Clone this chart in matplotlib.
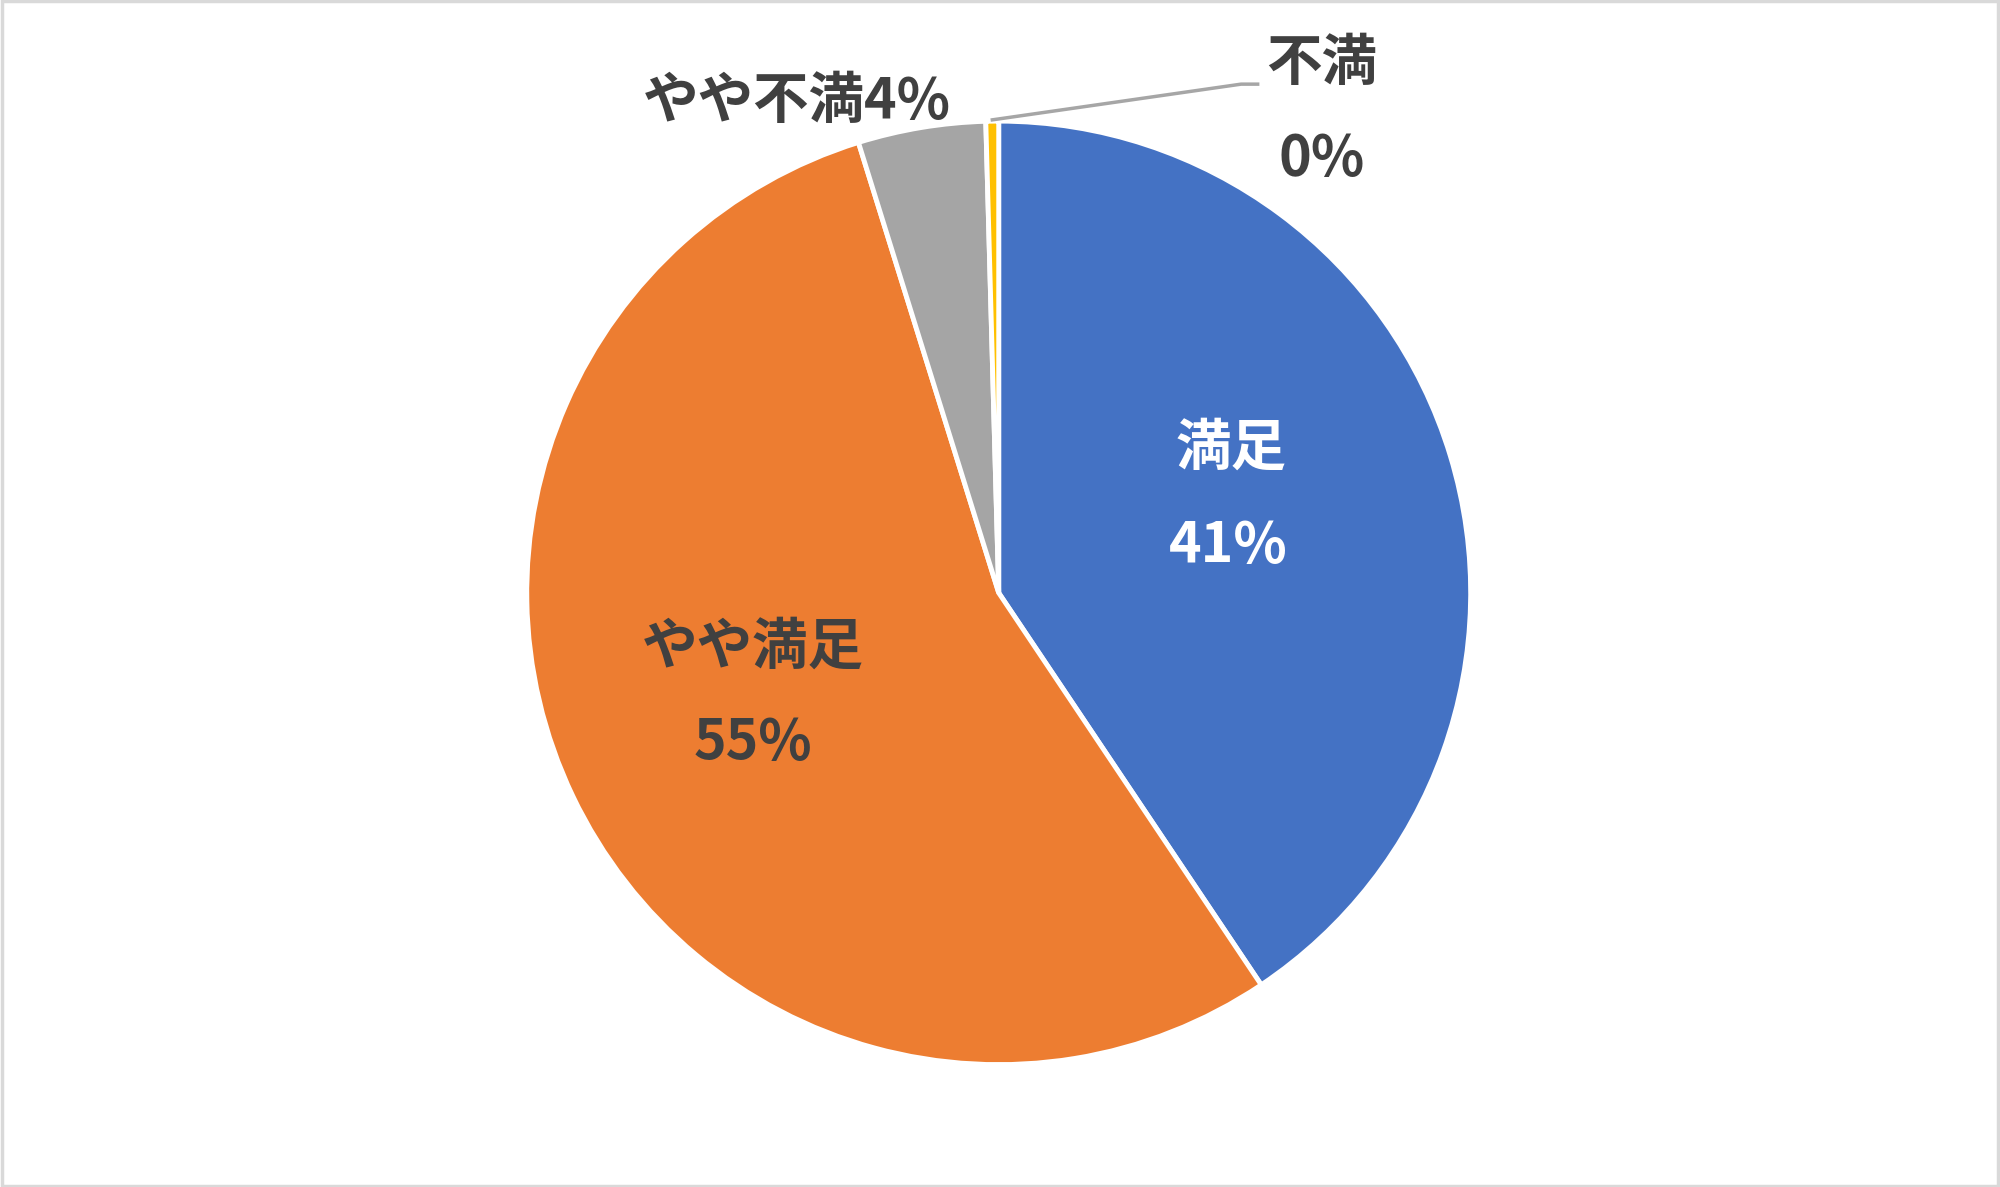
import matplotlib
matplotlib.use('Agg')
import matplotlib.pyplot as plt
from matplotlib.patches import Rectangle

plt.rcParams['font.family'] = ['Noto Sans CJK JP', 'DejaVu Sans']

# satisfaction survey counts
labels = ['満足', 'やや満足', 'やや不満', '不満']
counts = [93, 125, 10, 1]
colors = ['#4472C4', '#ED7D31', '#A5A5A5', '#FFC000']

total = sum(counts)
pcts = [round(c / total * 100) for c in counts]

fig = plt.figure(figsize=(20, 11.87), dpi=100)
ax = fig.add_axes([0, 0, 1, 1])

cx, cy, r = 783, 931 - 465, 370
ax.pie(counts, colors=colors, startangle=90, counterclock=False,
       center=(cx, cy), radius=r, frame=True,
       wedgeprops=dict(edgecolor='white', linewidth=3.5))
ax.set_xlim(0, 1568)
ax.set_ylim(0, 931)
ax.set_aspect('equal', adjustable='datalim')
ax.axis('off')

fs = 40
dark = '#404040'
# 満足
ax.text(965, 931 - 352, labels[0], color='white', fontsize=fs, fontweight='bold',
        ha='center', va='center')
ax.text(963, 931 - 428, f'{pcts[0]}%', color='white', fontsize=fs, fontweight='bold',
        ha='center', va='center')
# やや満足
ax.text(590, 931 - 508, labels[1], color=dark, fontsize=fs, fontweight='bold',
        ha='center', va='center')
ax.text(590, 931 - 583, f'{pcts[1]}%', color=dark, fontsize=fs, fontweight='bold',
        ha='center', va='center')
# やや不満
ax.text(625, 931 - 80, f'{labels[2]}{pcts[2]}%', color=dark, fontsize=fs,
        fontweight='bold', ha='center', va='center')
# 不満 with leader line
ax.plot([778, 973, 986], [931 - 94, 931 - 66, 931 - 66], color='#A6A6A6', lw=2.5)
ax.text(1036, 931 - 50, labels[3], color=dark, fontsize=fs, fontweight='bold',
        ha='center', va='center')
ax.text(1036, 931 - 125, f'{pcts[3]}%', color=dark, fontsize=fs, fontweight='bold',
        ha='center', va='center')

fig.patches.append(Rectangle((0.001, 0.001), 0.998, 0.998, transform=fig.transFigure,
                             fill=False, edgecolor='#D9D9D9', linewidth=2.5))

fig.savefig('out.png', dpi=100, facecolor='white')
